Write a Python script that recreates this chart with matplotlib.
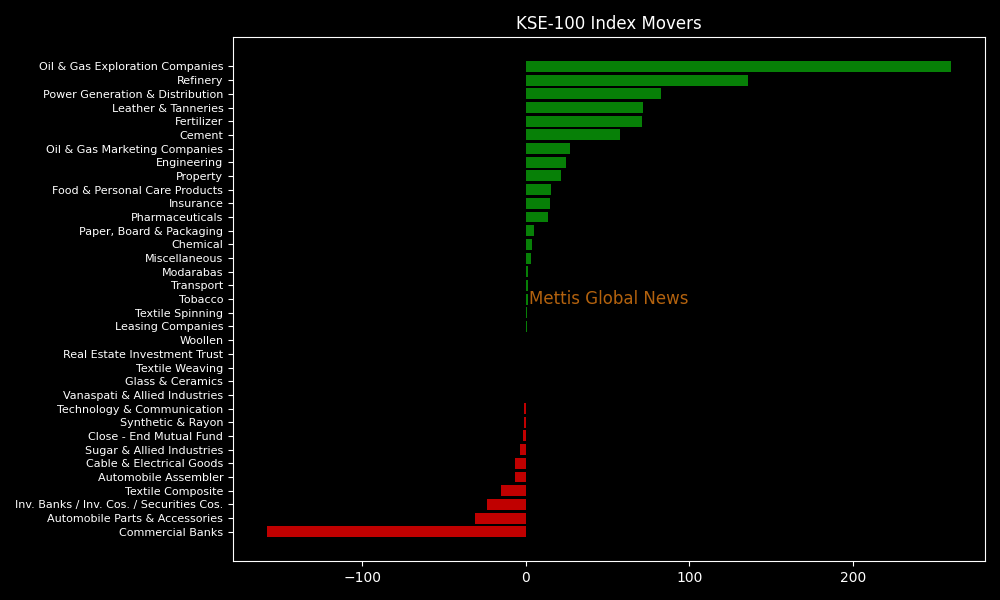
import matplotlib
matplotlib.use("Agg")
import matplotlib.pyplot as plt

# sectors, top to bottom as shown
sectors = [
    "Oil & Gas Exploration Companies", "Refinery", "Power Generation & Distribution",
    "Leather & Tanneries", "Fertilizer", "Cement", "Oil & Gas Marketing Companies",
    "Engineering", "Property", "Food & Personal Care Products", "Insurance",
    "Pharmaceuticals", "Paper, Board & Packaging", "Chemical", "Miscellaneous",
    "Modarabas", "Transport", "Tobacco", "Textile Spinning", "Leasing Companies",
    "Woollen", "Real Estate Investment Trust", "Textile Weaving", "Glass & Ceramics",
    "Vanaspati & Allied Industries", "Technology & Communication", "Synthetic & Rayon",
    "Close - End Mutual Fund", "Sugar & Allied Industries", "Cable & Electrical Goods",
    "Automobile Assembler", "Textile Composite", "Inv. Banks / Inv. Cos. / Securities Cos.",
    "Automobile Parts & Accessories", "Commercial Banks",
]
points = [
    259.8, 135.9, 82.8, 71.8, 71.2, 57.7, 27.2, 24.7, 21.7, 15.6, 15.0, 13.7,
    5.2, 4.0, 3.4, 1.3, 1.3, 1.5, 0.6, 0.5, 0.0, 0.0, 0.0, 0.0, 0.0,
    -0.8, -0.8, -1.5, -3.4, -6.4, -6.4, -15.0, -23.5, -30.8, -158.0,
]

plt.style.use("dark_background")
fig, ax = plt.subplots(figsize=(10, 6), dpi=100)
fig.subplots_adjust(left=0.233, right=0.985, top=0.938, bottom=0.065)

# plot bottom-up so the biggest gainer ends up on top
colors = ["#078007" if v >= 0 else "#c00000" for v in points]
ax.barh(sectors[::-1], points[::-1], color=colors[::-1])
ax.tick_params(axis="y", labelsize=8)
ax.set_title("KSE-100 Index Movers", fontsize=12)

ax.text(0.394, 0.5, "Mettis Global News", transform=ax.transAxes,
        va="center", ha="left", fontsize=12, color="#b3620e")

plt.savefig("out.png")
